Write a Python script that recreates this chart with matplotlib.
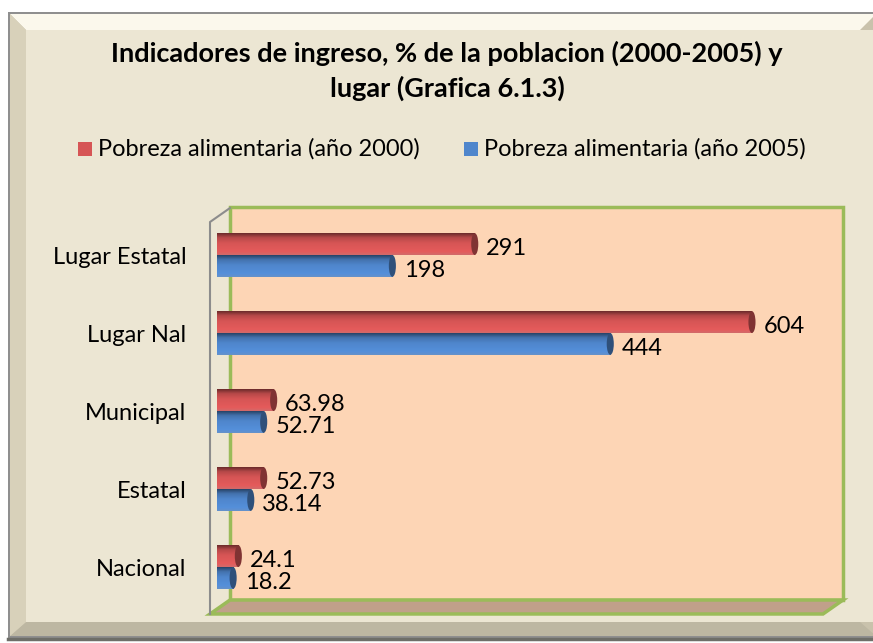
import numpy as np
import matplotlib
matplotlib.use("Agg")
from matplotlib import pyplot as plt
from matplotlib.patches import Rectangle, Polygon, Ellipse
from matplotlib.colors import LinearSegmentedColormap, to_rgb

plt.rcParams['font.family'] = ['Lato', 'DejaVu Sans']

# data
categorias = ['Nacional', 'Estatal', 'Municipal', 'Lugar Nal', 'Lugar Estatal']
pobreza_2000 = [24.1, 52.73, 63.98, 604, 291]
pobreza_2005 = [18.2, 38.14, 52.71, 444, 198]
etiquetas_2000 = ['24.1', '52.73', '63.98', '604', '291']
etiquetas_2005 = ['18.2', '38.14', '52.71', '444', '198']
series = ['Pobreza alimentaria (año 2000)', 'Pobreza alimentaria (año 2005)']
titulo = 'Indicadores de ingreso, % de la poblacion (2000-2005) y\nlugar (Grafica 6.1.3)'

ROJO = '#D65555'
AZUL = '#4F86CC'
W, H = 873, 643
FS = 17

fig = plt.figure(figsize=(W / 100, H / 100), dpi=100)
fig.patch.set_facecolor('white')

# background axes in pixel coords (frame and 3d walls)
bg = fig.add_axes([0, 0, 1, 1])
bg.set_xlim(0, W)
bg.set_ylim(H, 0)
bg.axis('off')

# outer frame with bevel
bg.add_patch(Rectangle((8, 12), 870, 628, facecolor='#8F8F8F', edgecolor='none'))
bg.add_patch(Rectangle((10, 14), 866, 622, facecolor='#C9C2AC', edgecolor='none'))
bg.add_patch(Polygon([(10, 14), (876, 14), (860, 30), (26, 30)], closed=True,
                     facecolor='#FBF8EC', edgecolor='none'))
bg.add_patch(Polygon([(10, 636), (876, 636), (860, 622), (26, 622)], closed=True,
                     facecolor='#BDB7A2', edgecolor='none'))
bg.add_patch(Polygon([(10, 14), (26, 30), (26, 622), (10, 636)], closed=True,
                     facecolor='#D8D1BA', edgecolor='none'))
bg.add_patch(Rectangle((26, 30), 850, 592, facecolor='#ECE6D3', edgecolor='none'))
bg.plot([8, 873], [639, 639], color='#6E6E68', lw=2.5)

# back wall, floor, side wall
verde = '#9BBB59'
bg.add_patch(Polygon([(230, 207), (843, 207), (843, 600), (230, 600)], closed=True,
                     facecolor='#FDD5B5', edgecolor=verde, lw=2.5))
bg.add_patch(Polygon([(230, 600), (843, 600), (823, 614), (210, 614)], closed=True,
                     facecolor='#C0A08A', edgecolor=verde, lw=2.5))
bg.plot([230, 210, 210], [208, 222, 614], color='#8C8C8C', lw=1.5)

# main axes: value 0 at x=217px, 700 at 837px; rows from y=216 to 606
x0, x1 = 217, 837
y0, y1 = 216, 606
ax = fig.add_axes([x0 / W, 1 - y1 / H, (x1 - x0) / W, (y1 - y0) / H])
ax.set_xlim(0, 700)
ax.set_ylim(-0.5, 4.5)
ax.patch.set_alpha(0)
for s in ax.spines.values():
    s.set_visible(False)
ax.set_xticks([])
ax.set_yticks(range(len(categorias)))
ax.set_yticklabels(categorias, fontsize=FS)
ax.tick_params(axis='y', length=0, pad=22)

y = np.arange(len(categorias))
h = 0.28


def cilindro(ax, yy, vals, color):
    bars = ax.barh(yy, vals, height=h, color=color, zorder=2)
    base = np.array(to_rgb(color))
    cols = [base * 0.8 + 0.2 * 0.75, np.minimum(base * 1.07, 1), base,
            base * 0.85, base * 0.5]
    cmap = LinearSegmentedColormap.from_list('c', list(zip([0, 0.15, 0.55, 0.8, 1], cols)))
    grad = np.linspace(0, 1, 64).reshape(-1, 1)
    for b in bars:
        bx, by, bw, bh = b.get_x(), b.get_y(), b.get_width(), b.get_height()
        ax.imshow(grad, extent=[bx, bx + bw, by + bh, by], aspect='auto',
                  cmap=cmap, zorder=3, interpolation='bilinear')
        b.set_visible(False)
        ax.add_patch(Ellipse((bx + bw, by + bh / 2), 8, bh, facecolor=base * 0.6,
                             edgecolor='none', zorder=4))
    return bars


b2000 = cilindro(ax, y + h / 2, pobreza_2000, ROJO)
b2005 = cilindro(ax, y - h / 2, pobreza_2005, AZUL)

dy = 0.06
for yy, v, t in zip(y + h / 2, pobreza_2000, etiquetas_2000):
    ax.text(v + 13, yy - dy, t, va='center', ha='left', fontsize=FS, zorder=5)
for yy, v, t in zip(y - h / 2, pobreza_2005, etiquetas_2005):
    ax.text(v + 13, yy - dy, t, va='center', ha='left', fontsize=FS, zorder=5)

# title and legend
fig.text(447 / W, 1 - 71 / H, titulo, ha='center', va='center', fontsize=19.5,
         fontweight='bold', linespacing=1.45)
ly = 1 - 149 / H
for i, (lx, c) in enumerate([(78, ROJO), (464, AZUL)]):
    bg.add_patch(Rectangle((lx, 142), 14, 14, facecolor=c, edgecolor='none'))
    fig.text((lx + 20) / W, ly, series[i], ha='left', va='center', fontsize=FS)

fig.savefig('out.png', dpi=100, facecolor='white')
